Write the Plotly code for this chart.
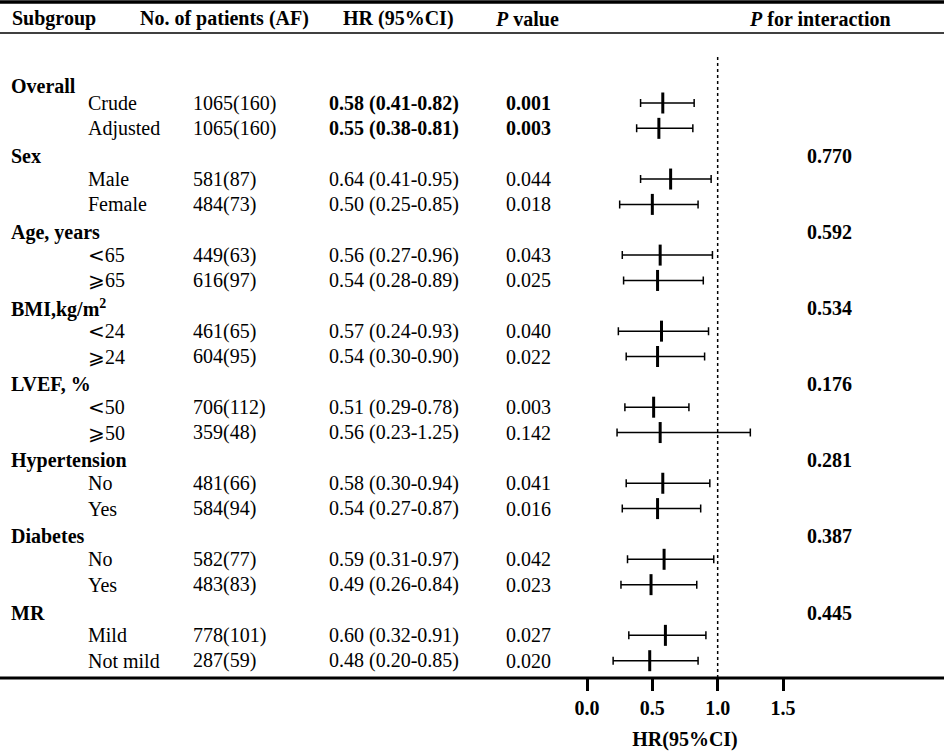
import plotly.graph_objects as go

W, H = 944, 751
FONT = "Liberation Serif"
FS = 20

LT = '<span style="font-family:DejaVu Sans">&lt;</span>'
GE = "⩾"
labels = ["Overall", "Crude", "Adjusted", "Sex", "Male", "Female", "Age, years", LT + "65", GE + "65",
          "BMI,kg/m<sup>2</sup>", LT + "24", GE + "24", "LVEF, %", LT + "50", GE + "50", "Hypertension", "No", "Yes",
          "Diabetes", "No", "Yes", "MR", "Mild", "Not mild"]
is_group = [True, False, False, True, False, False, True, False, False, True, False, False,
            True, False, False, True, False, False, True, False, False, True, False, False]
bold_row = [False, True, True] + [False] * 21
n_patients = ["", "1065(160)", "1065(160)", "", "581(87)", "484(73)", "", "449(63)", "616(97)",
              "", "461(65)", "604(95)", "", "706(112)", "359(48)", "", "481(66)", "584(94)",
              "", "582(77)", "483(83)", "", "778(101)", "287(59)"]
hr = [None, 0.58, 0.55, None, 0.64, 0.50, None, 0.56, 0.54, None, 0.57, 0.54,
      None, 0.51, 0.56, None, 0.58, 0.54, None, 0.59, 0.49, None, 0.60, 0.48]
lo = [None, 0.41, 0.38, None, 0.41, 0.25, None, 0.27, 0.28, None, 0.24, 0.30,
      None, 0.29, 0.23, None, 0.30, 0.27, None, 0.31, 0.26, None, 0.32, 0.20]
hi = [None, 0.82, 0.81, None, 0.95, 0.85, None, 0.96, 0.89, None, 0.93, 0.90,
      None, 0.78, 1.25, None, 0.94, 0.87, None, 0.97, 0.84, None, 0.91, 0.85]
p_value = ["", "0.001", "0.003", "", "0.044", "0.018", "", "0.043", "0.025", "", "0.040", "0.022",
           "", "0.003", "0.142", "", "0.041", "0.016", "", "0.042", "0.023", "", "0.027", "0.020"]
p_interaction = ["", "", "", "0.770", "", "", "0.592", "", "", "0.534", "", "",
                 "0.176", "", "", "0.281", "", "", "0.387", "", "", "0.445", "", ""]
headers = ["Subgroup", "No. of patients (AF)", "HR (95%CI)", "<i>P</i> value", "<i>P</i> for interaction"]
x_ticks = [0.0, 0.5, 1.0, 1.5]

# layout geometry (pixels)
ROW0, ROWH = 77.65, 25.35
PLOT_TOP, PLOT_BOT = 40, 678
X0_PX, X15_PX = 587, 783
PAD = 2  # annotation inner padding
header_x = [12, 140, 343, 495, 749]
col_group, col_sub, col_n, col_hr, col_p, col_pint = 11, 88, 193, 329, 506, 807
GROUP_SHIFT = 0.1       # heading rows sit slightly low
FIRST_ROW_SHIFT = 0.23  # the first heading sits lower still

rows = list(range(len(labels)))
y_top = (PLOT_TOP - ROW0) / ROWH
y_bot = (PLOT_BOT - ROW0) / ROWH

def px(x):
    return (x - PAD) / W

def py(y):
    return 1 - y / H

fig = go.Figure()

idx = [i for i in rows if hr[i] is not None]
fig.add_trace(go.Scatter(
    x=[hr[i] for i in idx],
    y=idx,
    mode="markers",
    marker=dict(symbol="line-ns", size=15, line=dict(width=3, color="black"), color="black"),
    error_x=dict(type="data", symmetric=False,
                 array=[hi[i] - hr[i] for i in idx],
                 arrayminus=[hr[i] - lo[i] for i in idx],
                 thickness=1.5, width=4, color="black"),
    hoverinfo="skip", showlegend=False,
))

ann = []
def add_text(x, y, text, bold=False, yref="y"):
    ann.append(dict(x=px(x), y=y, xref="paper", yref=yref, text=f"<b>{text}</b>" if bold else text,
                    showarrow=False, xanchor="left", yanchor="middle",
                    font=dict(family=FONT, size=FS, color="black")))

for hx, ht in zip(header_x, headers):
    add_text(hx, py(19), ht, bold=True, yref="paper")

for i in rows:
    if is_group[i]:
        gy = i + GROUP_SHIFT + (FIRST_ROW_SHIFT if i == 0 else 0)
        add_text(col_group, gy, labels[i], bold=True)
        if p_interaction[i]:
            add_text(col_pint, gy, p_interaction[i], bold=True)
    else:
        add_text(col_sub, i, labels[i])
    if n_patients[i]:
        add_text(col_n, i, n_patients[i])
    if hr[i] is not None:
        add_text(col_hr, i, f"{hr[i]:.2f} ({lo[i]:.2f}-{hi[i]:.2f})", bold=bold_row[i])
    if p_value[i]:
        add_text(col_p, i, p_value[i], bold=bold_row[i])

shapes = [
    dict(type="line", xref="paper", yref="paper", x0=0, x1=1, y0=py(2), y1=py(2),
         line=dict(color="black", width=3.5)),
    dict(type="line", xref="paper", yref="paper", x0=0, x1=1, y0=py(33), y1=py(33),
         line=dict(color="black", width=1.5)),
    dict(type="line", xref="paper", yref="y domain", x0=0, x1=1, y0=0, y1=0,
         line=dict(color="black", width=3)),
    dict(type="line", xref="x", yref="y domain", x0=1, x1=1, y0=0,
         y1=(PLOT_BOT - 57) / (PLOT_BOT - PLOT_TOP),
         line=dict(color="black", width=1.5, dash="3px,3px")),
]

fig.update_layout(
    template="none",
    width=W, height=H, autosize=False,
    margin=dict(l=0, r=0, t=0, b=0, pad=0, autoexpand=False),
    paper_bgcolor="white", plot_bgcolor="white",
    annotations=ann, shapes=shapes,
    xaxis=dict(domain=[X0_PX / W, X15_PX / W], range=[0, 1.5], automargin=False,
               tickvals=x_ticks, ticktext=[f"<b>{t:.1f}</b>" for t in x_ticks],
               ticks="outside", ticklen=12, tickwidth=3, tickcolor="black",
               showgrid=False, zeroline=False, showline=False,
               tickfont=dict(family=FONT, size=FS, color="black"),
               title=dict(text="<b>HR(95%CI)</b>", font=dict(family=FONT, size=FS, color="black"),
                          standoff=14)),
    yaxis=dict(domain=[py(PLOT_BOT), py(PLOT_TOP)], range=[y_bot, y_top], automargin=False,
               showticklabels=False, showgrid=False, zeroline=False, showline=False, ticks=""),
)

fig.write_html("out.html",
               config={"displayModeBar": False, "responsive": False},
               post_script="document.body.style.margin='0';document.body.style.overflow='hidden';")
